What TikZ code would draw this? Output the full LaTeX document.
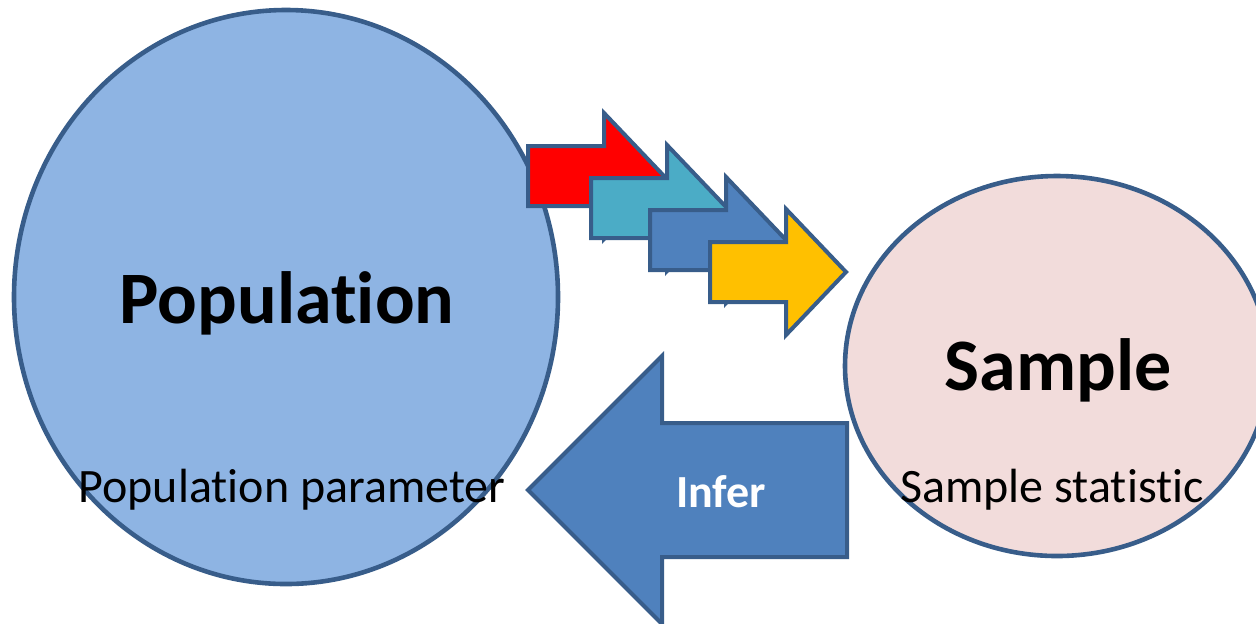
\documentclass[tikz,border=0pt]{standalone}
\usepackage{fontspec}
\setmainfont{Carlito}[Ligatures=NoCommon]
\usetikzlibrary{positioning}
\definecolor{edgeBlue}{RGB}{56, 93, 138}
\definecolor{popBlue}{RGB}{142, 180, 227}
\definecolor{samplePink}{RGB}{242, 220, 219}
\definecolor{stepRed}{RGB}{255, 0, 0}
\definecolor{stepTeal}{RGB}{75, 172, 198}
\definecolor{stepBlue}{RGB}{79, 129, 189}
\definecolor{stepYellow}{RGB}{255, 192, 0}
\tikzset{
    setShape/.style={draw=edgeBlue, line width=2.3pt},
    blockArrow/.style={draw=edgeBlue, line width=2pt, line join=miter},
    bigLabel/.style={font=\fontsize{37}{44}\selectfont\bfseries, anchor=base},
    smallLabel/.style={font=\fontsize{24}{29}\selectfont, anchor=base}
}
\def\popellipse{(286,297) ellipse [x radius=272, y radius=287]}
\def\sampleellipse{(1057,366) ellipse [x radius=212, y radius=190]}
\newcommand{\stepArrow}[3]{%
    \draw[blockArrow, fill=#1] (#2,#3) -- ++(76,0) -- ++(0,-33) -- ++(60,63)
        -- ++(-60,63) -- ++(0,-33) -- ++(-76,0) -- cycle;}

\begin{document}
\begin{tikzpicture}[x=0.5pt, y=-0.5pt]
    \useasboundingbox (0,0) rectangle (1256,623);
    \clip (0,0) rectangle (1256,623);

    % the two sets
    \draw[setShape, fill=popBlue] \popellipse;
    \draw[setShape, fill=samplePink] \sampleellipse;

    % sampling arrows
    \stepArrow{stepRed}{528}{146}
    \stepArrow{stepTeal}{591}{178}
    \stepArrow{stepBlue}{650}{210}
    \stepArrow{stepYellow}{710}{242}

    % inference arrow
    \draw[blockArrow, fill=stepBlue] (847,423) -- (662,423) -- (662,356) -- (528,490)
        -- (662,624) -- (662,557) -- (847,557) -- cycle;

    \node[bigLabel] (popTitle) at (287,323) {Population};
    \node[smallLabel] (popParam) at (292,502) {Population parameter};
    \node[bigLabel] (sampleTitle) at (1058,390) {Sample};
    \node[smallLabel] (sampleStat) at (1052,502) {Sample statistic};
    \node[font=\fontsize{23}{28}\selectfont\bfseries, text=white, anchor=base] (inferLabel) at (721,507) {Infer};
\end{tikzpicture}
\end{document}
